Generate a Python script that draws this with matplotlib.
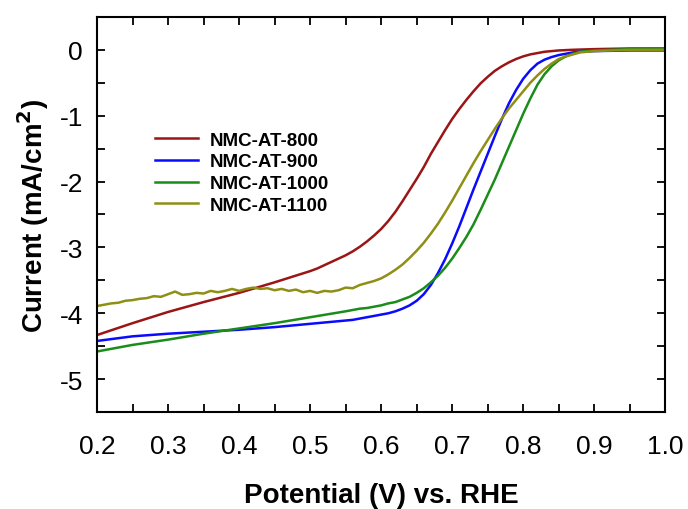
import numpy as np
import matplotlib
matplotlib.use("Agg")
import matplotlib.pyplot as plt
from matplotlib.ticker import MultipleLocator

plt.rcParams['font.family'] = ['Liberation Sans', 'DejaVu Sans']
plt.rcParams['axes.unicode_minus'] = False

# NMC-AT-800
v_800 = [0.20, 0.25, 0.30, 0.35, 0.40, 0.45, 0.50, 0.51, 0.52, 0.53, 0.54, 0.55, 0.56, 0.57,
         0.58, 0.59, 0.60, 0.61, 0.62, 0.63, 0.64, 0.65, 0.66, 0.67, 0.68, 0.69, 0.70, 0.71,
         0.72, 0.73, 0.74, 0.75, 0.76, 0.77, 0.78, 0.79, 0.80, 0.81, 0.82, 0.83, 0.84, 0.85,
         0.87, 0.90, 0.95, 1.00]
i_800 = [-4.33, -4.15, -3.98, -3.83, -3.69, -3.53, -3.36, -3.32, -3.27, -3.22, -3.17, -3.12, -3.06, -2.99,
         -2.91, -2.82, -2.72, -2.60, -2.46, -2.30, -2.13, -1.96, -1.78, -1.58, -1.40, -1.22, -1.05, -0.90,
         -0.76, -0.63, -0.51, -0.41, -0.32, -0.25, -0.19, -0.14, -0.10, -0.07, -0.05, -0.03, -0.02, -0.01,
         0.00, 0.01, 0.02, 0.02]

# NMC-AT-900
v_900 = [0.20, 0.25, 0.30, 0.35, 0.40, 0.45, 0.50, 0.55, 0.56, 0.57, 0.58, 0.59, 0.60, 0.61,
         0.62, 0.63, 0.64, 0.65, 0.66, 0.67, 0.68, 0.69, 0.70, 0.71, 0.72, 0.73, 0.74, 0.75,
         0.76, 0.77, 0.78, 0.79, 0.80, 0.81, 0.82, 0.83, 0.84, 0.85, 0.86, 0.87, 0.88, 0.90,
         0.95, 1.00]
i_900 = [-4.42, -4.35, -4.31, -4.28, -4.25, -4.21, -4.16, -4.11, -4.10, -4.08, -4.06, -4.04, -4.02, -4.00,
         -3.97, -3.93, -3.88, -3.81, -3.71, -3.57, -3.39, -3.18, -2.94, -2.68, -2.40, -2.12, -1.85, -1.58,
         -1.31, -1.05, -0.81, -0.61, -0.44, -0.31, -0.21, -0.15, -0.11, -0.08, -0.06, -0.04, -0.03, -0.02,
         -0.01, -0.01]

# NMC-AT-1000
v_1000 = [0.20, 0.25, 0.30, 0.35, 0.40, 0.45, 0.50, 0.55, 0.56, 0.57, 0.58, 0.59, 0.60, 0.61,
          0.62, 0.63, 0.64, 0.65, 0.66, 0.67, 0.68, 0.69, 0.70, 0.71, 0.72, 0.73, 0.74, 0.75,
          0.76, 0.77, 0.78, 0.79, 0.80, 0.81, 0.82, 0.83, 0.84, 0.85, 0.86, 0.87, 0.88, 0.90,
          0.95, 1.00]
i_1000 = [-4.58, -4.48, -4.40, -4.31, -4.23, -4.15, -4.06, -3.97, -3.95, -3.93, -3.92, -3.90, -3.88, -3.85,
          -3.83, -3.79, -3.75, -3.69, -3.62, -3.53, -3.43, -3.31, -3.17, -3.01, -2.84, -2.65, -2.43, -2.20,
          -1.97, -1.72, -1.47, -1.22, -0.97, -0.74, -0.53, -0.37, -0.25, -0.16, -0.10, -0.06, -0.03, -0.01,
          0.01, 0.02]

# NMC-AT-1100 (noisy plateau)
v_1100 = [0.20, 0.21, 0.22, 0.23, 0.24, 0.25, 0.26, 0.27, 0.28, 0.29, 0.30, 0.31, 0.32, 0.33,
          0.34, 0.35, 0.36, 0.37, 0.38, 0.39, 0.40, 0.41, 0.42, 0.43, 0.44, 0.45, 0.46, 0.47,
          0.48, 0.49, 0.50, 0.51, 0.52, 0.53, 0.54, 0.55, 0.56, 0.57, 0.58, 0.59, 0.60, 0.61,
          0.62, 0.63, 0.64, 0.65, 0.66, 0.67, 0.68, 0.69, 0.70, 0.71, 0.72, 0.73, 0.74, 0.75,
          0.76, 0.77, 0.78, 0.79, 0.80, 0.81, 0.82, 0.83, 0.84, 0.85, 0.86, 0.87, 0.88, 0.90,
          0.95, 1.00]
i_1100 = [-3.89, -3.87, -3.85, -3.84, -3.81, -3.80, -3.78, -3.77, -3.74, -3.75, -3.71, -3.67, -3.72, -3.71,
          -3.69, -3.70, -3.66, -3.68, -3.66, -3.63, -3.66, -3.63, -3.61, -3.63, -3.62, -3.65, -3.63, -3.66,
          -3.64, -3.68, -3.66, -3.69, -3.66, -3.67, -3.65, -3.61, -3.62, -3.57, -3.54, -3.51, -3.47, -3.41,
          -3.34, -3.26, -3.16, -3.05, -2.93, -2.79, -2.64, -2.47, -2.29, -2.10, -1.91, -1.72, -1.54, -1.37,
          -1.20, -1.04, -0.89, -0.76, -0.63, -0.50, -0.39, -0.29, -0.21, -0.14, -0.10, -0.07, -0.04, -0.02,
          0.00, 0.00]

fig = plt.figure(figsize=(6.88, 5.10), dpi=100)
ax = fig.add_axes([0.141, 0.190, 0.826, 0.775])

ax.plot(v_800, i_800, color='#9a1515', lw=1.8, label='NMC-AT-800')
ax.plot(v_900, i_900, color='#0a0aff', lw=1.8, label='NMC-AT-900')
ax.plot(v_1000, i_1000, color='#1a8c1a', lw=1.8, label='NMC-AT-1000')
ax.plot(v_1100, i_1100, color='#8f8f15', lw=1.8, label='NMC-AT-1100')

ax.set_xlim(0.2, 1.0)
ax.set_ylim(-5.5, 0.5)
ax.xaxis.set_major_locator(MultipleLocator(0.1))
ax.xaxis.set_minor_locator(MultipleLocator(0.05))
ax.yaxis.set_major_locator(MultipleLocator(1))
ax.yaxis.set_minor_locator(MultipleLocator(0.5))
ax.set_xticklabels([f'{t:.1f}' for t in ax.get_xticks()])

ax.tick_params(which='both', direction='in', top=True, right=True, length=6, width=1.3)
ax.tick_params(axis='x', which='major', labelsize=19, pad=16)
ax.tick_params(axis='y', which='major', labelsize=19, pad=10)
for s in ax.spines.values():
    s.set_linewidth(1.5)

ax.set_xlabel('Potential (V) vs. RHE', fontsize=20, fontweight='bold', labelpad=17)
ax.set_ylabel('Current (mA/cm$^\\mathbf{2}$)', fontsize=20, fontweight='bold', labelpad=6)

ax.legend(loc='upper left', bbox_to_anchor=(0.102, 0.71), frameon=False,
          prop={'weight': 'bold', 'size': 13.5}, handlelength=2.3, handletextpad=0.6,
          labelspacing=0.25, borderpad=0, borderaxespad=0)

fig.savefig('out.png', dpi=100)
